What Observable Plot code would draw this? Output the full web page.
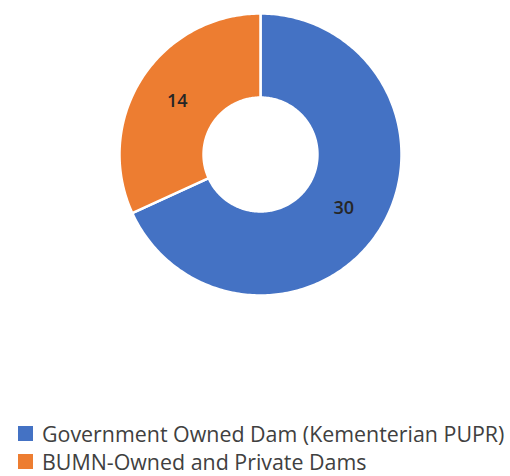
<!DOCTYPE html>
<html>
<head>
<meta charset="utf-8">
<script src="https://cdn.jsdelivr.net/npm/d3@7"></script>
<script src="https://cdn.jsdelivr.net/npm/@observablehq/plot@0.6"></script>
<style>
  html, body { margin: 0; padding: 0; background: #fff; }
  #wrap { position: relative; width: 510px; height: 476px; overflow: hidden; font-family: "Open Sans", sans-serif; }
  #chart { position: absolute; left: 0; top: 0; }
  #legend { position: absolute; left: 18px; top: 419px; color: #404040; font-size: 21.4px; }
  .row { display: flex; align-items: center; height: 28px; white-space: nowrap; }
  .sw { width: 15px; height: 15px; margin-right: 9px; flex: none; }
</style>
</head>
<body>
<div id="wrap">
  <div id="chart"></div>
  <div id="legend"></div>
</div>
<script>
const categories = ["Government Owned Dam (Kementerian PUPR)", "BUMN-Owned and Private Dams"];
const values = [30, 14];
const colors = ["#4472C4", "#ED7D31"];

const innerRatio = 0.404;
const pie = d3.pie().sort(null).value(d => d.value);
const slices = pie(categories.map((c, i) => ({category: c, value: values[i]})));

// polygon points for each slice, in unit coordinates (angle clockwise from top)
const pts = [];
slices.forEach(s => {
  const n = Math.max(8, Math.ceil((s.endAngle - s.startAngle) / (Math.PI * 2) * 400));
  for (let k = 0; k <= n; k++) {
    const a = s.startAngle + (s.endAngle - s.startAngle) * k / n;
    pts.push({category: s.data.category, x: Math.sin(a), y: Math.cos(a)});
  }
  for (let k = n; k >= 0; k--) {
    const a = s.startAngle + (s.endAngle - s.startAngle) * k / n;
    pts.push({category: s.data.category, x: innerRatio * Math.sin(a), y: innerRatio * Math.cos(a)});
  }
});
const labels = slices.map(s => {
  const a = (s.startAngle + s.endAngle) / 2, r = (1 + innerRatio) / 2;
  return {category: s.data.category, value: s.data.value, x: r * Math.sin(a), y: r * Math.cos(a)};
});

const cx = 260, cy = 154, R = 141;
const chart = Plot.plot({
  width: 510,
  height: 300,
  margin: 0,
  x: {domain: [-1, 1], range: [cx - R, cx + R], axis: null},
  y: {domain: [-1, 1], range: [cy + R, cy - R], axis: null},
  color: {domain: categories, range: colors},
  style: {background: "white", fontFamily: "Open Sans, sans-serif"},
  marks: [
    Plot.line(pts, {x: "x", y: "y", z: "category", fill: "category", stroke: "white", strokeWidth: 2.5, curve: "linear-closed"}),
    Plot.text(labels, {x: "x", y: "y", text: d => String(d.value), fill: "#262626", fontSize: 18, fontWeight: 600})
  ]
});
document.getElementById("chart").appendChild(chart);

const legend = document.getElementById("legend");
categories.forEach((c, i) => {
  const row = document.createElement("div");
  row.className = "row";
  const sw = document.createElement("span");
  sw.className = "sw";
  sw.style.background = colors[i];
  const t = document.createElement("span");
  t.textContent = c;
  row.appendChild(sw);
  row.appendChild(t);
  legend.appendChild(row);
});
</script>
</body>
</html>
